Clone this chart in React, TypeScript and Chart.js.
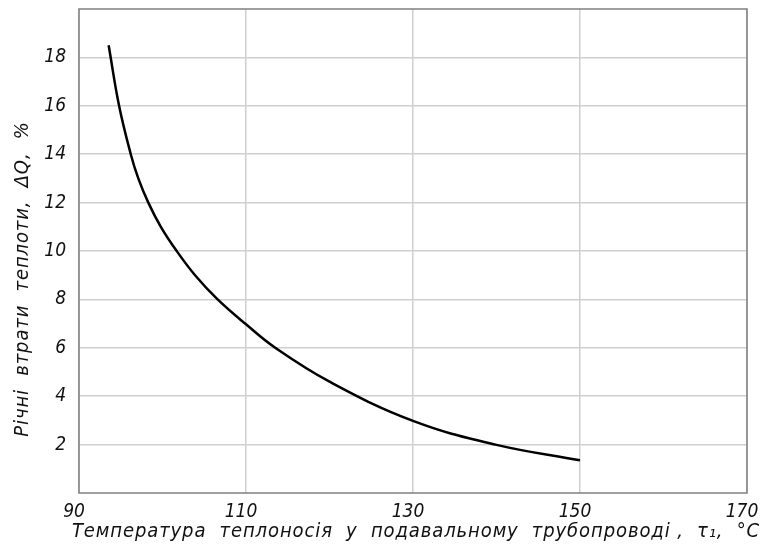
import React, { useEffect, useRef } from "react";
import { Chart, registerables } from "chart.js";

Chart.register(...registerables);

const temperatures = [93.55, 94.8, 96.2, 97.1, 98.3, 99.8, 101.7, 103.9, 106.6, 110, 113.5, 120, 130, 140, 150];
const heatLosses = [18.5, 16, 14, 13, 12, 11, 10, 9, 8, 6.97, 6, 4.6, 2.98, 1.99, 1.35];
const xTickValues = [90, 110, 130, 150, 170];
const yTickValues = [2, 4, 6, 8, 10, 12, 14, 16, 18];
const xTitle = "Температура  теплоносія  у  подавальному  трубопроводі ,  τ₁,  °C";
const yTitle = "Річні  втрати  теплоти,  ΔQ,  %";

const FONT_FAMILY = "'DejaVu Sans Condensed', 'DejaVu Sans', sans-serif";

export default function App() {
  const canvasRef = useRef<HTMLCanvasElement | null>(null);

  useEffect(() => {
    document.body.style.margin = "0";
    const canvas = canvasRef.current;
    if (!canvas) return;

    const framePlugin = {
      id: "frameAndTitles",
      afterDraw(chart: any) {
        const { ctx, chartArea } = chart;
        ctx.save();
        ctx.strokeStyle = "#808080";
        ctx.lineWidth = 1.5;
        ctx.strokeRect(chartArea.left, chartArea.top, chartArea.right - chartArea.left, chartArea.bottom - chartArea.top);
        ctx.fillStyle = "#111";
        ctx.font = `italic 20px ${FONT_FAMILY}`;
        (ctx as any).letterSpacing = "0.9px";
        ctx.textAlign = "center";
        ctx.textBaseline = "middle";
        ctx.fillText(xTitle, 416, 532);
        ctx.translate(23, 279);
        ctx.rotate(-Math.PI / 2);
        ctx.fillText(yTitle, 0, 0);
        ctx.restore();
      },
    };

    const chart = new Chart(canvas, {
      type: "scatter",
      data: {
        datasets: [
          {
            data: temperatures.map((t, i) => ({ x: t, y: heatLosses[i] })),
            showLine: true,
            borderColor: "#000",
            borderWidth: 2.5,
            pointRadius: 0,
            tension: 0.4,
            fill: false,
          },
        ],
      },
      options: {
        responsive: false,
        animation: false,
        layout: { padding: { top: 9, right: 14, left: 0, bottom: 0 } },
        plugins: { legend: { display: false }, tooltip: { enabled: false } },
        scales: {
          x: {
            type: "linear",
            min: 90,
            max: 170,
            afterBuildTicks: (scale: any) => {
              scale.ticks = xTickValues.map((v) => ({ value: v }));
            },
            afterFit: (scale: any) => {
              scale.height = 57;
              scale.paddingLeft = 0;
              scale.paddingRight = 0;
            },
            grid: { color: "#cfcfcf", lineWidth: 1.5, drawTicks: false },
            border: { display: false },
            ticks: {
              color: "#111",
              padding: 8,
              labelOffset: -5,
              font: { family: FONT_FAMILY, size: 19, style: "italic" },
            },
          },
          y: {
            type: "linear",
            min: 0,
            max: 20,
            afterBuildTicks: (scale: any) => {
              scale.ticks = yTickValues.map((v) => ({ value: v }));
            },
            afterFit: (scale: any) => {
              scale.width = 79;
              scale.paddingTop = 0;
              scale.paddingBottom = 0;
            },
            grid: { color: "#cfcfcf", lineWidth: 1.5, drawTicks: false },
            border: { display: false },
            ticks: {
              color: "#111",
              padding: 13,
              font: { family: FONT_FAMILY, size: 19, style: "italic" },
            },
          },
        },
      },
      plugins: [framePlugin],
    });

    return () => chart.destroy();
  }, []);

  return (
    <div style={{ width: 761, height: 550 }}>
      <canvas ref={canvasRef} width={761} height={550} style={{ display: "block" }} />
    </div>
  );
}
